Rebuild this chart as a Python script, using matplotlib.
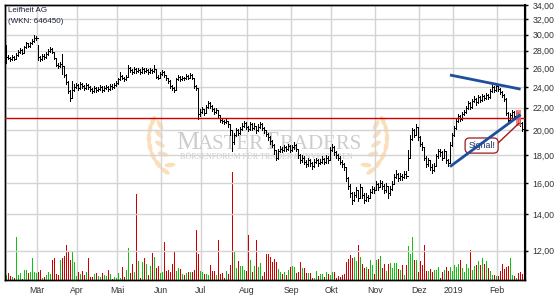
import numpy as np
import matplotlib.pyplot as plt
from matplotlib.patches import Ellipse, Rectangle
from matplotlib.ticker import NullLocator

plt.rcParams['font.family'] = ['Liberation Sans', 'DejaVu Sans']

# daily OHLC, Leifheit AG, Feb 2018 - Feb 2019 (one entry per trading day)
closes = [
    27.3, 27.2, 27.0, 27.3, 27.1, 27.5, 27.9, 28.1, 27.8, 28.4,
    28.9, 28.6, 28.9, 29.2, 29.5, 29.6, 27.3, 27.0, 27.4, 27.3,
    27.6, 28.0, 28.2, 27.9, 27.2, 26.4, 26.2, 26.5, 26.3, 25.3,
    24.5, 23.6, 22.9, 23.7, 24.0, 24.2, 23.9, 24.3, 24.1, 23.9,
    24.2, 24.0, 23.8, 23.6, 23.9, 23.7, 23.8, 24.0, 23.7, 23.9,
    24.0, 23.8, 24.1, 24.0, 24.2, 24.4, 24.8, 25.2, 25.0, 24.8,
    25.1, 26.0, 25.8, 25.6, 25.9, 25.7, 25.8, 25.6, 25.9, 25.7,
    25.8, 25.6, 25.8, 25.7, 25.9, 25.1, 25.0, 25.4, 25.6, 25.3,
    24.9, 24.6, 24.1, 23.9, 23.7, 24.8, 25.1, 24.8, 25.0, 24.9,
    25.2, 25.0, 25.3, 25.0, 24.1, 23.9, 21.4, 21.6, 21.9, 21.5,
    22.1, 22.4, 22.2, 21.9, 21.6, 21.8, 21.3, 20.9, 20.8, 20.7,
    20.8, 20.5, 20.0, 19.0, 19.6, 20.0, 19.8, 20.1, 20.4, 20.6,
    20.3, 20.1, 20.5, 20.2, 20.4, 20.0, 20.3, 20.5, 20.2, 20.0,
    19.7, 19.4, 19.1, 18.8, 18.4, 17.8, 18.3, 18.5, 18.4, 18.6,
    18.5, 18.7, 18.4, 18.6, 18.8, 18.5, 18.0, 17.6, 17.8, 17.5,
    17.3, 17.6, 17.4, 17.2, 17.5, 17.6, 17.4, 17.5, 17.7, 17.5,
    17.8, 17.6, 18.4, 18.6, 18.2, 18.0, 17.8, 17.5, 17.3, 17.1,
    16.3, 15.8, 15.3, 14.9, 15.2, 15.5, 15.0, 15.7, 15.2, 14.9,
    15.1, 15.0, 15.4, 15.6, 15.5, 15.9, 15.7, 16.0, 15.8, 15.5,
    15.8, 15.3, 15.6, 15.9, 16.4, 16.6, 16.3, 16.5, 16.4, 16.6,
    16.5, 17.8, 19.3, 20.0, 19.6, 20.3, 19.4, 18.9, 18.6, 17.8,
    17.3, 17.6, 17.1, 16.9, 17.2, 17.9, 18.3, 18.2, 17.8, 18.3,
    17.6, 17.4, 18.8, 19.6, 20.2, 20.8, 21.2, 21.0, 21.4, 21.6,
    22.0, 22.4, 22.1, 22.6, 22.8, 22.5, 23.0, 22.7, 23.1, 22.9,
    23.2, 23.0, 23.6, 24.0, 23.7, 24.1, 23.8, 23.5, 23.2, 22.8,
    21.5, 20.9, 21.3, 21.6, 21.2, 21.5, 21.0, 20.6, 20.1,
]
highs = [
    28.7, 27.5, 27.3, 27.5, 27.4, 27.7, 28.1, 28.3, 28.2, 28.6,
    29.1, 29.0, 29.1, 29.4, 29.9, 29.8, 28.7, 27.4, 27.6, 27.6,
    27.9, 28.2, 28.5, 28.3, 27.9, 27.2, 26.6, 26.7, 27.6, 26.3,
    25.4, 24.6, 23.7, 24.6, 24.3, 24.4, 24.3, 24.5, 24.4, 24.2,
    24.4, 24.3, 24.1, 23.9, 24.1, 24.0, 24.0, 24.2, 24.1, 24.1,
    24.2, 24.1, 24.3, 24.3, 24.4, 24.6, 25.0, 25.6, 25.3, 25.1,
    25.3, 26.4, 26.1, 25.9, 26.1, 26.0, 26.0, 25.9, 26.1, 26.0,
    26.0, 25.9, 26.0, 25.9, 26.4, 25.9, 25.3, 25.6, 25.8, 25.7,
    25.3, 25.0, 24.7, 24.2, 24.0, 25.0, 25.3, 25.2, 25.2, 25.1,
    25.4, 25.3, 25.5, 25.4, 25.0, 24.2, 23.9, 21.9, 22.1, 21.9,
    22.3, 22.6, 22.5, 22.3, 22.0, 22.0, 21.8, 21.3, 21.0, 20.9,
    21.0, 20.8, 20.5, 20.0, 19.8, 20.2, 20.1, 20.3, 20.6, 20.8,
    20.7, 20.4, 20.7, 20.6, 20.6, 20.4, 20.5, 20.7, 20.6, 20.3,
    20.0, 19.8, 19.5, 19.2, 18.9, 18.4, 18.5, 18.7, 18.6, 18.8,
    18.7, 18.9, 18.8, 18.8, 19.0, 18.9, 18.5, 18.1, 18.0, 17.9,
    17.6, 17.8, 17.7, 17.5, 17.7, 17.8, 17.7, 17.7, 17.9, 17.8,
    18.0, 17.9, 18.6, 18.9, 18.7, 18.3, 18.1, 17.9, 17.6, 17.4,
    17.1, 16.4, 15.9, 15.4, 15.4, 15.7, 15.5, 15.9, 15.7, 15.3,
    15.3, 15.2, 15.6, 15.8, 15.7, 16.1, 16.0, 16.2, 16.1, 15.9,
    16.0, 15.8, 15.8, 16.1, 16.6, 16.9, 16.7, 16.7, 16.6, 16.8,
    16.8, 18.4, 19.6, 20.2, 20.1, 20.5, 20.2, 19.5, 19.0, 18.6,
    17.9, 17.8, 17.6, 17.3, 17.4, 18.1, 18.5, 18.5, 18.3, 18.5,
    18.3, 17.7, 19.0, 19.8, 20.4, 21.0, 21.4, 21.3, 21.6, 21.8,
    22.2, 22.6, 22.5, 22.8, 23.1, 22.9, 23.2, 23.1, 23.3, 23.2,
    23.4, 23.3, 23.8, 24.2, 24.1, 24.3, 24.2, 23.9, 23.6, 23.3,
    22.9, 21.6, 21.5, 21.8, 21.7, 21.7, 21.6, 21.1, 20.7,
]
lows = [
    26.6, 27.0, 26.8, 26.9, 26.9, 27.0, 27.4, 27.8, 27.6, 27.8,
    28.3, 28.4, 28.5, 28.8, 29.1, 29.3, 26.9, 26.8, 26.9, 27.1,
    27.2, 27.5, 27.9, 27.7, 27.0, 26.2, 26.0, 26.1, 25.4, 25.1,
    24.3, 23.4, 22.6, 22.9, 23.6, 23.9, 23.7, 23.8, 23.9, 23.7,
    23.8, 23.8, 23.6, 23.4, 23.5, 23.5, 23.6, 23.7, 23.5, 23.6,
    23.8, 23.6, 23.7, 23.8, 23.9, 24.1, 24.3, 24.7, 24.8, 24.6,
    24.7, 25.1, 25.6, 25.4, 25.5, 25.5, 25.6, 25.4, 25.5, 25.5,
    25.6, 25.4, 25.5, 25.5, 25.6, 24.9, 24.8, 24.9, 25.3, 25.1,
    24.7, 24.4, 23.9, 23.7, 23.5, 23.7, 24.7, 24.6, 24.7, 24.7,
    24.8, 24.8, 24.9, 24.8, 23.9, 23.7, 21.0, 21.2, 21.5, 21.3,
    21.5, 22.0, 22.0, 21.7, 21.4, 21.5, 21.1, 20.7, 20.6, 20.5,
    20.6, 20.3, 19.6, 18.3, 18.9, 19.5, 19.6, 19.7, 20.0, 20.3,
    20.1, 19.9, 20.0, 20.0, 20.1, 19.8, 19.9, 20.2, 20.0, 19.8,
    19.5, 19.2, 18.9, 18.6, 18.1, 17.6, 17.7, 18.2, 18.2, 18.3,
    18.3, 18.4, 18.2, 18.3, 18.5, 18.3, 17.8, 17.4, 17.5, 17.3,
    17.1, 17.2, 17.2, 17.0, 17.1, 17.4, 17.2, 17.3, 17.4, 17.3,
    17.4, 17.4, 17.6, 18.3, 18.0, 17.8, 17.6, 17.3, 17.1, 16.9,
    16.1, 15.6, 15.1, 14.6, 14.8, 15.1, 14.8, 15.0, 15.0, 14.7,
    14.8, 14.8, 15.0, 15.3, 15.3, 15.5, 15.5, 15.7, 15.6, 15.3,
    15.4, 15.0, 15.2, 15.5, 15.9, 16.3, 16.1, 16.2, 16.2, 16.3,
    16.3, 16.9, 17.8, 19.2, 19.4, 19.6, 19.2, 18.7, 18.4, 17.6,
    17.1, 17.2, 16.9, 16.7, 16.8, 17.2, 17.8, 17.9, 17.6, 17.8,
    17.4, 17.2, 17.4, 18.7, 19.5, 20.1, 20.7, 20.8, 20.9, 21.3,
    21.5, 21.9, 21.9, 22.0, 22.5, 22.3, 22.4, 22.5, 22.6, 22.7,
    22.8, 22.8, 22.9, 23.5, 23.5, 23.6, 23.6, 23.3, 23.0, 22.6,
    21.3, 20.6, 20.8, 21.1, 21.0, 21.1, 20.8, 20.4, 19.9,
]
volume = [
    5, 7, 4, 3, 2, 43, 5, 7, 1, 10,
    10, 7, 8, 22, 8, 7, 8, 10, 2, 3,
    5, 8, 6, 20, 22, 6, 5, 20, 22, 24,
    35, 29, 20, 29, 18, 4, 8, 6, 9, 5,
    8, 22, 3, 3, 6, 7, 4, 3, 7, 5,
    4, 10, 6, 1, 3, 2, 7, 2, 13, 3,
    10, 32, 7, 16, 8, 86, 19, 2, 18, 22,
    16, 5, 14, 27, 23, 12, 14, 7, 8, 38,
    9, 10, 8, 16, 29, 9, 12, 11, 6, 5,
    7, 8, 8, 8, 10, 50, 26, 9, 8, 6,
    6, 5, 15, 9, 9, 5, 40, 6, 7, 2,
    9, 6, 15, 108, 28, 12, 19, 14, 14, 10,
    9, 45, 20, 8, 14, 40, 13, 17, 4, 8,
    26, 26, 23, 18, 21, 18, 11, 8, 6, 8,
    5, 10, 13, 14, 13, 7, 8, 18, 12, 12,
    7, 7, 7, 2, 2, 9, 4, 6, 6, 3,
    8, 6, 5, 8, 8, 2, 4, 3, 5, 6,
    18, 21, 25, 22, 23, 19, 35, 23, 16, 12,
    13, 11, 20, 15, 6, 20, 21, 24, 12, 16,
    9, 16, 17, 12, 17, 17, 11, 10, 15, 5,
    15, 34, 26, 43, 20, 20, 8, 19, 15, 35,
    9, 9, 11, 8, 10, 10, 13, 2, 8, 10,
    13, 9, 13, 9, 15, 13, 16, 20, 12, 8,
    16, 12, 30, 10, 14, 15, 19, 15, 22, 16,
    19, 12, 9, 5, 5, 4, 4, 9, 16, 11,
    13, 14, 22, 5, 4, 2, 7, 8, 6,
]

month_labels = ['Mär', 'Apr', 'Mai', 'Jun', 'Jul', 'Aug', 'Sep', 'Okt', 'Nov', 'Dez', '2019', 'Feb']
month_start = [16, 36, 56, 78, 98, 121, 143, 163, 185, 207, 224, 246]  # index of first bar in month
price_ticks = [12, 14, 16, 18, 20, 22, 24, 26, 28, 30, 32, 34]

# drawn analysis
support_level = 21.05
upper_trend_x, upper_trend_y = [222, 257.3], [25.27, 23.8]
lower_trend_x, lower_trend_y = [222, 257.3], [17.14, 21.36]

n = len(closes)
assert len(highs) == n and len(lows) == n and len(volume) == n
x = np.arange(n)
opens = [closes[0]] + closes[:-1]
up = [c >= o for c, o in zip(closes, opens)]
vol_colors = ['#12c012' if u else '#cc0000' for u in up]

fig = plt.figure(figsize=(5.55, 3.0), dpi=100)

# background layer in pixel coords for the watermark
bg = fig.add_axes([0, 0, 1, 1], zorder=-1)
bg.set_xlim(0, 555)
bg.set_ylim(300, 0)
bg.axis('off')
wm = dict(family='Liberation Serif', color='#cdcdcd', va='baseline', ha='left')
bg.text(176, 149, 'M', fontsize=18.5, **wm)
bg.text(198, 149, 'ASTER', fontsize=15, **wm)
bg.text(263, 149, 'T', fontsize=18.5, **wm)
bg.text(279, 149, 'RADERS', fontsize=15, **wm)
bg.text(266, 159, 'BÖRSENFORUM FÜR TRADER & INVESTOREN', fontsize=5.9,
        family='Liberation Serif', color='#cdcdcd', ha='center', va='baseline')
leaves = [(165, 171, 35), (158, 164, 55), (153, 156, 65), (150, 147, 78), (149, 138, 88),
          (150, 129, 100), (153, 121, 112), (170, 165, -5), (163, 154, 15), (160, 144, 30),
          (159, 134, 45), (160, 125, 60)]
for lx, ly, ang in leaves:
    bg.add_patch(Ellipse((lx, ly), 11, 4.5, angle=ang, color='#fbdfba', lw=0))
    bg.add_patch(Ellipse((536 - lx, ly), 11, 4.5, angle=-ang, color='#fbdfba', lw=0))

# volume axes (bottom layer)
axv = fig.add_axes([5 / 555, 20 / 300, 520 / 555, 275 / 300])
axv.set_facecolor('none')
axv.vlines(x, 0, volume, colors=vol_colors, lw=0.5, antialiased=False)
axv.set_xlim(-0.5, n + 0.5)
axv.set_ylim(0, 275)
axv.set_xticks([m - 0.5 for m in month_start])
axv.set_xticklabels(month_labels, fontsize=6.3, color='#333333')
axv.grid(axis='x', color='#d4d4d4', lw=1)
axv.set_axisbelow(True)

# price axes on the right
ax = axv.twinx()
axv.set_yticks([])
axv.tick_params(axis='x', length=0, pad=4)
ax.set_yscale('log')
ax.set_ylim(10.6, 34)
ax.set_yticks(price_ticks)
ax.set_yticklabels([f'{t:.2f}'.replace('.', ',') for t in price_ticks], fontsize=6.3, color='#333333')
ax.yaxis.set_minor_locator(NullLocator())
ax.tick_params(axis='y', which='both', left=False, labelleft=False, length=2.5, pad=3, width=1)
ax.grid(axis='y', color='#d4d4d4', lw=1)
ax.set_axisbelow(True)

ax.vlines(x, lows, highs, color='black', lw=0.7, antialiased=False, zorder=3)
ax.hlines(opens, x - 0.5, x, color='black', lw=0.7, antialiased=False, zorder=3)
ax.hlines(closes, x, x + 0.5, color='black', lw=0.7, antialiased=False, zorder=3)

ax.axhline(support_level, color='#d00000', lw=1, zorder=4)
ax.add_patch(Rectangle((254.9, 20.38), 2.4, 1.41, facecolor='#f07070', edgecolor='none',
                       alpha=0.85, zorder=4))
ax.plot([245.9, 256.5], [18.92, 20.6], color='#a01818', lw=1, zorder=4)
ax.text(237.8, 18.74, 'Signal!', fontsize=6.3, color='#1b2f5e', ha='center', va='center',
        bbox=dict(boxstyle='round,pad=0.35,rounding_size=0.5', fc='white', ec='#a01818', lw=0.9),
        zorder=5)
ax.plot(upper_trend_x, upper_trend_y, color='#1d4f9e', lw=2, solid_capstyle='butt', zorder=6)
ax.plot(lower_trend_x, lower_trend_y, color='#1d4f9e', lw=2, solid_capstyle='butt', zorder=6)

for a in (axv, ax):
    for s in a.spines.values():
        s.set_color('black')
        s.set_linewidth(1)
ax.spines['right'].set_linewidth(1.5)

fig.text(8 / 555, 1 - 12 / 300, 'Leifheit AG', fontsize=5.8, color='#1a1f3c', va='baseline')
fig.text(8 / 555, 1 - 23 / 300, '(WKN: 646450)', fontsize=5.8, color='#1a1f3c', va='baseline')

fig.savefig('out.png', dpi=100)
